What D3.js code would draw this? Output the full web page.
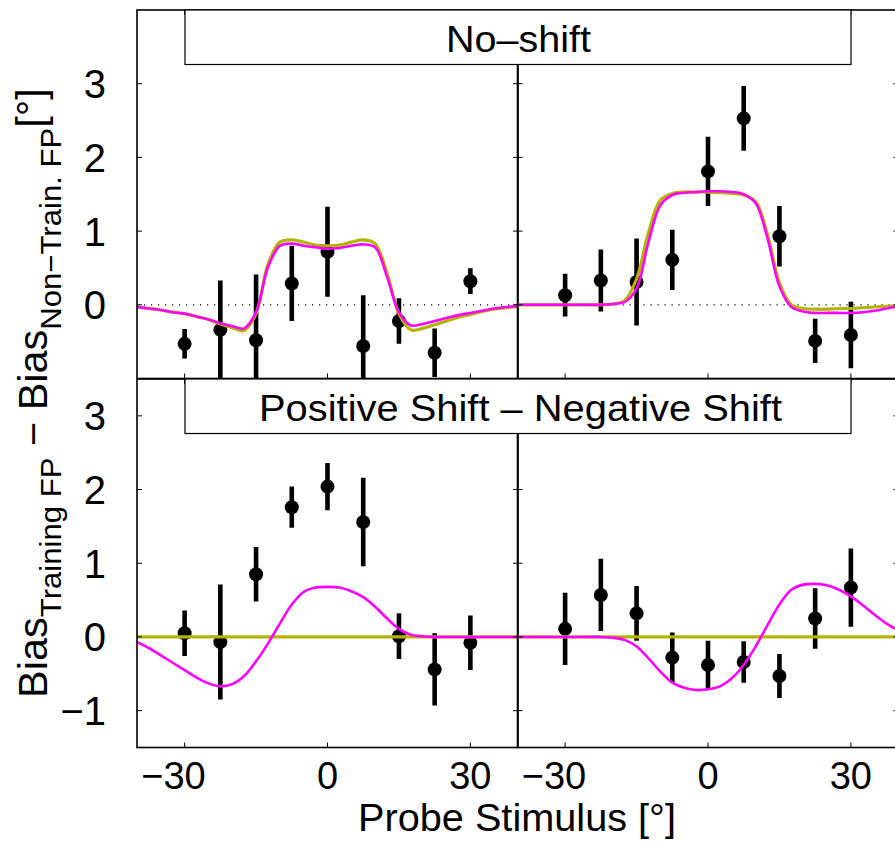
<!DOCTYPE html>
<html>
<head>
<meta charset="utf-8">
<script src="https://cdn.jsdelivr.net/npm/d3@7"></script>
<style>
body { margin: 0; background: #fff; }
svg { display: block; font-family: "Liberation Sans", Arial, Helvetica, sans-serif; }
text { white-space: pre; }
</style>
</head>
<body>
<svg width="895" height="843"></svg>
<script>
// ---- data ----

// probe stimulus positions (deg)
var probes = [-30, -22.5, -15, -7.5, 0, 7.5, 15, 22.5, 30];

// measured bias difference and error (deg)
var noShiftLeftMean = [-0.53, -0.34, -0.48, 0.29, 0.72, -0.56, -0.22, -0.65, 0.32];
var noShiftLeftErr = [0.20, 0.67, 0.89, 0.51, 0.61, 0.69, 0.31, 0.33, 0.175];
var noShiftRightMean = [0.13, 0.33, 0.31, 0.61, 1.81, 2.53, 0.93, -0.49, -0.41];
var noShiftRightErr = [0.29, 0.42, 0.59, 0.41, 0.47, 0.44, 0.41, 0.30, 0.45];
var shiftLeftMean = [0.05, -0.07, 0.85, 1.76, 2.04, 1.56, 0.01, -0.44, -0.08];
var shiftLeftErr = [0.31, 0.78, 0.37, 0.28, 0.32, 0.60, 0.31, 0.49, 0.37];
var shiftRightMean = [0.11, 0.57, 0.32, -0.28, -0.38, -0.34, -0.53, 0.25, 0.67];
var shiftRightErr = [0.49, 0.49, 0.37, 0.34, 0.33, 0.28, 0.30, 0.41, 0.53];

// model curves, sampled at these stimulus values
var curveX = [-40, -37.5, -35, -32.5, -30, -27.5, -25, -22.5, -20, -17.5, -15, -12.5, -10, -7.5, -5, -2.5,
  0, 2.5, 5, 7.5, 10, 12.5, 15, 17.5, 20, 22.5, 25, 27.5, 30, 32.5, 35, 37.5, 40];

var noShiftLeftMagenta = [-0.03, -0.05, -0.07, -0.10, -0.12, -0.16, -0.20, -0.25, -0.29, -0.32, -0.10, 0.51, 0.80, 0.83, 0.80, 0.78,
  0.76, 0.77, 0.80, 0.82, 0.78, 0.38, -0.10, -0.28, -0.26, -0.22, -0.18, -0.14, -0.11, -0.08, -0.05, -0.03, -0.02];
var noShiftLeftOlive = [-0.03, -0.05, -0.07, -0.10, -0.12, -0.16, -0.20, -0.26, -0.31, -0.35, -0.12, 0.55, 0.85, 0.88, 0.85, 0.81,
  0.80, 0.81, 0.85, 0.88, 0.83, 0.43, -0.12, -0.34, -0.32, -0.27, -0.22, -0.17, -0.13, -0.09, -0.06, -0.04, -0.02];
var noShiftRightMagenta = [0, 0, 0, 0, 0, 0, 0, 0, 0.01, 0.04, 0.22, 0.85, 1.35, 1.49, 1.52, 1.53,
  1.54, 1.54, 1.53, 1.50, 1.38, 0.90, 0.25, -0.03, -0.09, -0.11, -0.11, -0.11, -0.11, -0.10, -0.08, -0.05, -0.02];
var noShiftRightOlive = [0, 0, 0, 0, 0, 0, 0, 0, 0.01, 0.06, 0.35, 0.98, 1.42, 1.51, 1.53, 1.53,
  1.53, 1.52, 1.51, 1.49, 1.40, 0.95, 0.30, 0.0, -0.05, -0.06, -0.06, -0.05, -0.05, -0.04, -0.03, -0.02, -0.01];
var shiftLeftMagenta = [-0.07, -0.15, -0.25, -0.35, -0.45, -0.55, -0.63, -0.67, -0.64, -0.53, -0.33, -0.09, 0.18, 0.44, 0.61, 0.67,
  0.68, 0.67, 0.62, 0.54, 0.41, 0.25, 0.11, 0.03, 0.01, 0, 0, 0, 0, 0, 0, 0, 0];
var shiftLeftOlive = [0, 0, 0, 0, 0, 0, 0, 0, 0, 0, 0, 0, 0, 0, 0, 0,
  0, 0, 0, 0, 0, 0, 0, 0, 0, 0, 0, 0, 0, 0, 0, 0, 0];
var shiftRightMagenta = [0, 0, 0, 0, 0, 0, 0, 0, -0.01, -0.04, -0.13, -0.29, -0.47, -0.62, -0.69, -0.72,
  -0.71, -0.67, -0.56, -0.38, -0.13, 0.16, 0.44, 0.64, 0.71, 0.72, 0.70, 0.64, 0.55, 0.43, 0.30, 0.18, 0.09];
var shiftRightOlive = [0, 0, 0, 0, 0, 0, 0, 0, 0, 0, 0, 0, 0, 0, 0, 0,
  0, 0, 0, 0, 0, 0, 0, 0, 0, 0, 0, 0, 0, 0, 0, 0, 0];

// axes
var xDomain = [-40, 40];
var xTicks = [-30, 0, 30];
var yDomainTop = [-1, 4];
var yDomainBottom = [-1.5, 3.5];
var yTicksTop = [-1, 0, 1, 2, 3];
var yTicksBottom = [-1, 0, 1, 2, 3];
var yTickLabelsTop = [0, 1, 2, 3];
var yTickLabelsBottom = [-1, 0, 1, 2, 3];

var rowTitles = ["No\u2013shift", "Positive Shift \u2013 Negative Shift"];
var xLabel = "Probe Stimulus [\u00b0]";

// ---- layout ----
var svg = d3.select("svg");
var magenta = "#ff00ff";
var olive = "#b4b400";

var cols = [{x0: 137, x1: 518}, {x0: 517.5, x1: 898.5}];
var rows = [
  {y0: 10, y1: 378.5, domain: yDomainTop, ticks: yTicksTop, labels: yTickLabelsTop, dotted: true},
  {y0: 379, y1: 747.5, domain: yDomainBottom, ticks: yTicksBottom, labels: yTickLabelsBottom, dotted: false}
];

var panels = [
  {row: 0, col: 0, mean: noShiftLeftMean, err: noShiftLeftErr, mag: noShiftLeftMagenta, oli: noShiftLeftOlive},
  {row: 0, col: 1, mean: noShiftRightMean, err: noShiftRightErr, mag: noShiftRightMagenta, oli: noShiftRightOlive},
  {row: 1, col: 0, mean: shiftLeftMean, err: shiftLeftErr, mag: shiftLeftMagenta, oli: shiftLeftOlive},
  {row: 1, col: 1, mean: shiftRightMean, err: shiftRightErr, mag: shiftRightMagenta, oli: shiftRightOlive}
];

panels.forEach(function(p, i) {
  var r = rows[p.row], c = cols[p.col];
  var x = d3.scaleLinear().domain(xDomain).range([c.x0, c.x1]);
  var y = d3.scaleLinear().domain(r.domain).range([r.y1, r.y0]);

  svg.append("clipPath").attr("id", "clip" + i)
    .append("rect")
    .attr("x", c.x0).attr("y", r.y0)
    .attr("width", c.x1 - c.x0).attr("height", r.y1 - r.y0);

  var g = svg.append("g").attr("clip-path", "url(#clip" + i + ")");

  if (r.dotted) {
    g.append("line")
      .attr("x1", x(xDomain[0])).attr("x2", x(xDomain[1]))
      .attr("y1", y(0)).attr("y2", y(0))
      .attr("stroke", "#000").attr("stroke-width", 1.2)
      .attr("stroke-dasharray", "1.2,5.8");
  }

  // error bars and points
  var pts = probes.map(function(v, k) { return {x: v, m: p.mean[k], e: p.err[k]}; });
  g.selectAll(".eb").data(pts).enter().append("line")
    .attr("x1", function(d) { return x(d.x); })
    .attr("x2", function(d) { return x(d.x); })
    .attr("y1", function(d) { return y(d.m - d.e); })
    .attr("y2", function(d) { return y(d.m + d.e); })
    .attr("stroke", "#000").attr("stroke-width", 4.6);
  g.selectAll(".pt").data(pts).enter().append("circle")
    .attr("cx", function(d) { return x(d.x); })
    .attr("cy", function(d) { return y(d.m); })
    .attr("r", 7).attr("fill", "#000");

  // model curves
  var line = d3.line()
    .x(function(d) { return x(d[0]); })
    .y(function(d) { return y(d[1]); })
    .curve(d3.curveCatmullRom.alpha(0.5));
  g.append("path").datum(d3.zip(curveX, p.oli))
    .attr("d", line).attr("fill", "none")
    .attr("stroke", olive).attr("stroke-width", 3.2);
  g.append("path").datum(d3.zip(curveX, p.mag))
    .attr("d", line).attr("fill", "none")
    .attr("stroke", magenta).attr("stroke-width", 2.6);

  // inward ticks on all four sides
  var tk = 5;
  var ticks = svg.append("g").attr("stroke", "#000").attr("stroke-width", 1);
  r.ticks.forEach(function(t) {
    ticks.append("line").attr("x1", c.x0).attr("x2", c.x0 + tk).attr("y1", y(t)).attr("y2", y(t));
    ticks.append("line").attr("x1", c.x1).attr("x2", c.x1 - tk).attr("y1", y(t)).attr("y2", y(t));
  });
  xTicks.forEach(function(t) {
    ticks.append("line").attr("x1", x(t)).attr("x2", x(t)).attr("y1", r.y1).attr("y2", r.y1 - tk);
    ticks.append("line").attr("x1", x(t)).attr("x2", x(t)).attr("y1", r.y0).attr("y2", r.y0 + tk);
  });

  // frame
  svg.append("rect")
    .attr("x", c.x0).attr("y", r.y0)
    .attr("width", c.x1 - c.x0).attr("height", r.y1 - r.y0)
    .attr("fill", "none").attr("stroke", "#000").attr("stroke-width", 1.6);

  // y tick labels on the left column only
  if (p.col === 0) {
    svg.append("g").selectAll("text").data(r.labels).enter().append("text")
      .attr("x", 106)
      .attr("y", function(d) { return y(d) + 14.5; })
      .attr("text-anchor", "end")
      .attr("font-size", 40)
      .text(function(d) { return d < 0 ? "\u2212" + Math.abs(d) : d; });
  }

  // x tick labels on the bottom row only, minus sign hangs to the left
  if (p.row === 1) {
    xTicks.forEach(function(t) {
      var lg = svg.append("g").attr("transform", "translate(" + x(t) + ",789)");
      var num = lg.append("text").attr("text-anchor", "middle").attr("font-size", 38).text(Math.abs(t));
      if (t < 0) {
        var w = num.node().getComputedTextLength();
        lg.append("text").attr("x", -w / 2).attr("text-anchor", "end").attr("font-size", 38).text("\u2212");
      }
    });
  }
});

// row title boxes
var boxX0 = 185, boxX1 = 851, boxH = 54.5;
var titleSpecs = [
  {cx: 518.5, base: 51.5, size: 37, len: 145},
  {cx: 520.5, base: 421, size: 36, len: 523}
];
rows.forEach(function(r, i) {
  svg.append("rect")
    .attr("x", boxX0).attr("y", r.y0)
    .attr("width", boxX1 - boxX0).attr("height", boxH)
    .attr("fill", "#fff").attr("stroke", "#000").attr("stroke-width", 1.2);
  svg.append("text")
    .attr("x", titleSpecs[i].cx).attr("y", titleSpecs[i].base)
    .attr("text-anchor", "middle")
    .attr("font-size", titleSpecs[i].size)
    .attr("textLength", titleSpecs[i].len)
    .attr("lengthAdjust", "spacingAndGlyphs")
    .text(rowTitles[i]);
});

// x axis label
svg.append("text")
  .attr("x", 517).attr("y", 831)
  .attr("text-anchor", "middle")
  .attr("font-size", 38)
  .attr("textLength", 318)
  .attr("lengthAdjust", "spacingAndGlyphs")
  .text(xLabel);

// y axis label with subscripts
var yLabelG = svg.append("g");
var yl = yLabelG.append("text").attr("text-anchor", "middle");
yl.append("tspan").attr("font-size", 40).text("Bias");
yl.append("tspan").attr("font-size", 30).attr("dy", 14).text("Training FP");
yl.append("tspan").attr("font-size", 40).attr("dy", -14).text(" \u2212 Bias");
yl.append("tspan").attr("font-size", 30).attr("dy", 14).text("Non\u2212Train. FP");
yl.append("tspan").attr("font-size", 40).attr("dy", -16).text("[\u00b0]");
var ylLen = yl.node().getComputedTextLength();
yLabelG.attr("transform", "translate(47,393) rotate(-90) scale(" + (610 / ylLen) + ",1)");
</script>
</body>
</html>
